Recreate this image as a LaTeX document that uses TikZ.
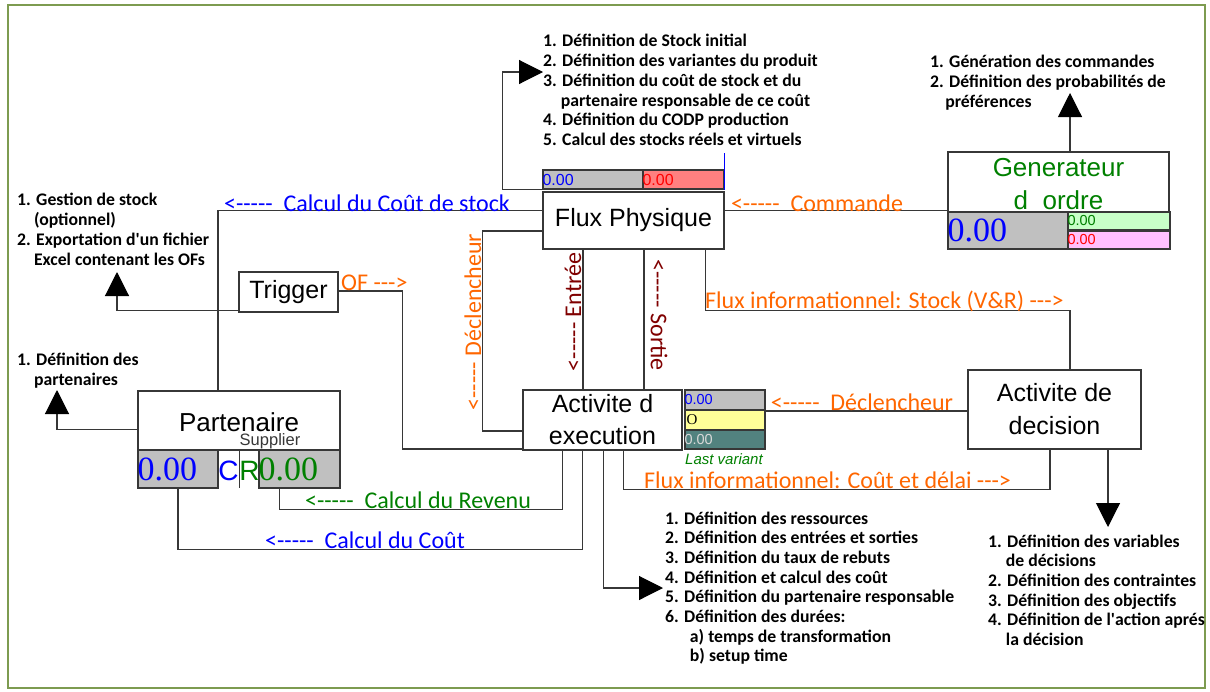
\documentclass[tikz,border=0pt]{standalone}
\usepackage{fontspec}
\setmainfont{Carlito}
\newfontfamily\arialf{Liberation Sans}
\newfontfamily\timesf{Liberation Serif}
\usetikzlibrary{arrows.meta}
\definecolor{orng}{RGB}{255,102,0}
\definecolor{blu}{RGB}{0,0,255}
\definecolor{grn}{RGB}{0,128,0}
\definecolor{mar}{RGB}{128,0,0}
\definecolor{lgray}{RGB}{192,192,192}
\definecolor{lred}{RGB}{255,128,128}
\definecolor{lgreen}{RGB}{200,255,200}
\definecolor{lpink}{RGB}{255,192,255}
\definecolor{lyel}{RGB}{255,255,153}
\definecolor{tealb}{RGB}{82,130,127}
\definecolor{frm}{RGB}{125,155,80}
\definecolor{ln}{RGB}{55,55,55}
\newcommand\larr{<\kern0pt-\kern0pt-\kern0pt-\kern0pt-\kern0pt-}
\newcommand\rarr{-\kern0pt-\kern0pt-\kern0pt>}
\tikzset{
  conn/.style={draw=ln, line width=1.1pt},
  arr/.style={conn, -{Triangle[length=24pt,width=24pt,color=black,fill=black]}},
  box/.style={draw=ln, line width=1.3pt, rectangle, inner sep=0pt},
  title/.style={font=\arialf\fontsize{25}{32}\selectfont, align=center},
  lst/.style={font=\bfseries\fontsize{17.7}{19.7}\selectfont, align=left, inner sep=0pt, anchor=north west},
  lbl/.style={font=\fontsize{24}{28}\selectfont, inner sep=0pt},
  val/.style={font=\arialf\fontsize{16}{16}\selectfont, inner sep=0pt, anchor=west},
  sval/.style={font=\arialf\fontsize{14.5}{14.5}\selectfont, inner sep=0pt, anchor=west},
  big/.style={font=\timesf\fontsize{34}{34}\selectfont, inner sep=0pt, anchor=west}
}
\begin{document}
\begin{tikzpicture}[x=1pt,y=-1pt]
\useasboundingbox (0,0) rectangle (1210,691);
\draw[draw=frm, line width=2.5pt] (8,5) rectangle (1205,688);

% ---------- Flux Physique
\node[box, minimum width=181pt, minimum height=57pt, title] (flux) at (633.5,220.5) {Flux Physique};
\node[box, fill=lgray, minimum width=100pt, minimum height=19pt] (fa) at (593,179.5) {};
\node[box, fill=lred, minimum width=81pt, minimum height=19pt] (fb) at (683.5,179.5) {};
\node[val, text=blu] (fat) at (fa.west) {0.00};
\node[val, text=red] (fbt) at (fb.west) {0.00};
\draw[blu, line width=1pt] (fb.south east) -- ++(0,-37);

% ---------- Generateur d ordre
\node[box, minimum width=221pt, minimum height=60pt] (gen) at (1058.5,182) {};
\node[title, text=grn, font=\arialf\fontsize{26}{33}\selectfont] (gent) at (1058.5,184) {Generateur\\d\ \ ordre};
\node[box, fill=lgray, minimum width=120pt, minimum height=37pt] (ga) at (1008,230.5) {};
\node[box, fill=lgreen, minimum width=102pt, minimum height=18pt] (gb) at (1119,221) {};
\node[box, fill=lpink, minimum width=102pt, minimum height=18pt] (gc) at (1119,240) {};
\node[big, text=blu] (gat) at (ga.west) {0.00};
\node[sval, text=grn] (gbt) at (gb.west) {0.00};
\node[sval, text=red] (gct) at (gc.west) {0.00};

% ---------- Trigger
\node[box, minimum width=99pt, minimum height=40pt, title] (trig) at (288.5,292) {Trigger};

% ---------- Partenaire
\node[box, minimum width=202pt, minimum height=59pt] (part) at (239,420.5) {};
\node[font=\arialf\fontsize{26}{26}\selectfont, inner sep=0pt] (partt) at (239,422) {Partenaire};
\node[font=\arialf\fontsize{16.5}{16.5}\selectfont, text=ln, inner sep=0pt] (supp) at (270,441) {Supplier};
\node[box, fill=lgray, minimum width=80pt, minimum height=38pt] (pa) at (178,469) {};
\node[box, fill=lgray, minimum width=81pt, minimum height=38pt] (pb) at (299.5,469) {};
\node[big, text=blu] (pat) at (pa.west) {0.00};
\node[big, text=grn] (pbt) at (pb.west) {0.00};
\node[font=\arialf\fontsize{28}{28}\selectfont, text=blu, inner sep=0pt] (pc) at (228.5,471) {C};
\node[font=\arialf\fontsize{28}{28}\selectfont, text=grn, inner sep=0pt] (pr) at (249.5,471) {R};
\draw[ln, line width=0.8pt] (239,450) -- (239,488);

% ---------- Activite d execution
\node[box, minimum width=159pt, minimum height=60pt, title] (exe) at (602.5,420) {Activite d\\execution};
\node[box, fill=lgray, minimum width=80pt, minimum height=20pt] (sa) at (725,400) {};
\node[box, fill=lyel, minimum width=80pt, minimum height=20pt] (sb) at (725,420) {};
\node[box, fill=tealb, minimum width=80pt, minimum height=19pt] (sc) at (725,439.5) {};
\node[sval, text=blu] (sat) at (sa.west) {0.00};
\node[font=\timesf\fontsize{15}{15}\selectfont, inner sep=0pt, anchor=west] (sbt) at ([xshift=2pt]sb.west) {O};
\node[sval, text=black!15] (sct) at (sc.west) {0.00};
\node[font=\arialf\itshape\fontsize{15}{15}\selectfont, text=grn, anchor=west, inner sep=0pt] (lv) at (685,459) {Last variant};

% ---------- Activite de decision
\node[box, minimum width=173pt, minimum height=79pt, title, font=\arialf\fontsize{25}{33}\selectfont] (dec) at (1054.5,409.5) {Activite de\\decision};

% ---------- lists
\node[lst] (L1) at (543,33) {\strut 1. Définition de Stock initial\\2. Définition des variantes du produit\\3. Définition du coût de stock et du\\\hspace*{1em}partenaire responsable de ce coût\\4. Définition du CODP production\\5. Calcul des stocks réels et virtuels};
\node[lst] (L2) at (930,54) {\strut 1. Génération des commandes\\2. Définition des probabilités de\\\hspace*{0.85em}préférences};
\node[lst] (L3) at (17,192) {\strut 1. Gestion de stock\\\hspace*{0.95em}(optionnel)\\2. Exportation d\textquotesingle un fichier\\\hspace*{0.95em}Excel contenant les OFs};
\node[lst] (L4) at (17,352) {\strut 1. Définition des\\\hspace*{0.95em}partenaires};
\node[lst] (L5) at (665,510) {\strut 1. Définition des ressources\\2. Définition des entrées et sorties\\3. Définition du taux de rebuts\\4. Définition et calcul des coût\\5. Définition du partenaire responsable\\6. Définition des durées:\\\hspace*{1.4em}a) temps de transformation\\\hspace*{1.4em}b) setup time};
\node[lst] (L6) at (988,533) {\strut 1. Définition des variables\\\hspace*{1em}de décisions\\2. Définition des contraintes\\3. Définition des objectifs\\4. Définition de l\textquotesingle action aprés\\\hspace*{1em}la décision};

% ---------- arrow tips
\coordinate (t1) at (543,72);
\coordinate (t2) at (1070,93);
\coordinate (t3) at (117,272);
\coordinate (t4) at (57,390);
\coordinate (t5) at (663,588);
\coordinate (t6) at (1108,527);

\draw[arr] (fa.south west) -- ++(-40,0) |- (t1);
\draw[arr] (t2 |- gen.north) -- (t2);
\draw[arr] ([yshift=2pt]trig.south west) -| (t3);
\draw[arr] ([yshift=-9pt]part.west) -| (t4);
\draw[arr] ([xshift=81pt]exe.south west) |- (t5);
\draw[arr] (t6 |- dec.south) -- (t6);

% ---------- flow connectors
\draw[conn] ([yshift=-19pt]flux.north west) -| ([xshift=-21pt]part.north);
\draw[conn] ([yshift=-19pt]flux.north east) -- ([yshift=-19pt]flux.north east -| gen.west);
\draw[conn] ([yshift=-10.5pt]flux.west) -- ++(-60,0) |- ([yshift=-11pt]exe.west);
\draw[conn] ([xshift=-50.5pt]flux.south) -- ([xshift=-50.5pt]flux.south |- exe.north);
\draw[conn] ([xshift=10.5pt]flux.south) -- ([xshift=10.5pt]flux.south |- exe.north);
\draw[conn] ([xshift=-19pt]flux.south east) -- ++(0,61) -| ([xshift=15.5pt]dec.north);
\draw[conn] ([yshift=-1.5pt]dec.west) -- ([yshift=-1.5pt]dec.west -| sb.east);
\draw[conn] ([xshift=101pt]exe.south west) -- ++(0,39) -| ([xshift=-4.5pt]dec.south);
\draw[conn] ([xshift=40pt]exe.south west) -- ++(0,59) -| ([xshift=21pt]pb.south west);
\draw[conn] ([xshift=60pt]exe.south west) -- ++(0,99) -| (pa.south);
\draw[conn] ([yshift=1pt]trig.east) -- ++(64,0) |- ([yshift=-29pt]exe.west);

% ---------- labels
\node[lbl, text=blu] (l1) at (367,203) {\larr\ \ Calcul du Coût de stock};
\node[lbl, text=orng] (l2) at (817,203) {\larr\ \ Commande};
\node[lbl, text=orng, rotate=90] (l3) at (473,322) {\larr\ Déclencheur};
\node[lbl, text=mar, rotate=90] (l4) at (573,312) {\larr\ Entrée};
\node[lbl, text=mar, rotate=-90] (l5) at (659,315) {\larr\ Sortie};
\node[lbl, text=orng, anchor=west] (l6) at (705,301) {Flux informationnel: Stock (V\&R) \rarr};
\node[lbl, text=orng] (l7) at (862,402) {\larr\ \ Déclencheur};
\node[lbl, text=orng, anchor=west] (l8) at (644,480) {Flux informationnel: Coût et délai \rarr};
\node[lbl, text=grn] (l9) at (418,500) {\larr\ \ Calcul du Revenu};
\node[lbl, text=blu] (l10) at (365,540) {\larr\ \ Calcul du Coût};
\node[lbl, text=orng, anchor=west] (l11) at (341,283) {OF \rarr};
\end{tikzpicture}
\end{document}
